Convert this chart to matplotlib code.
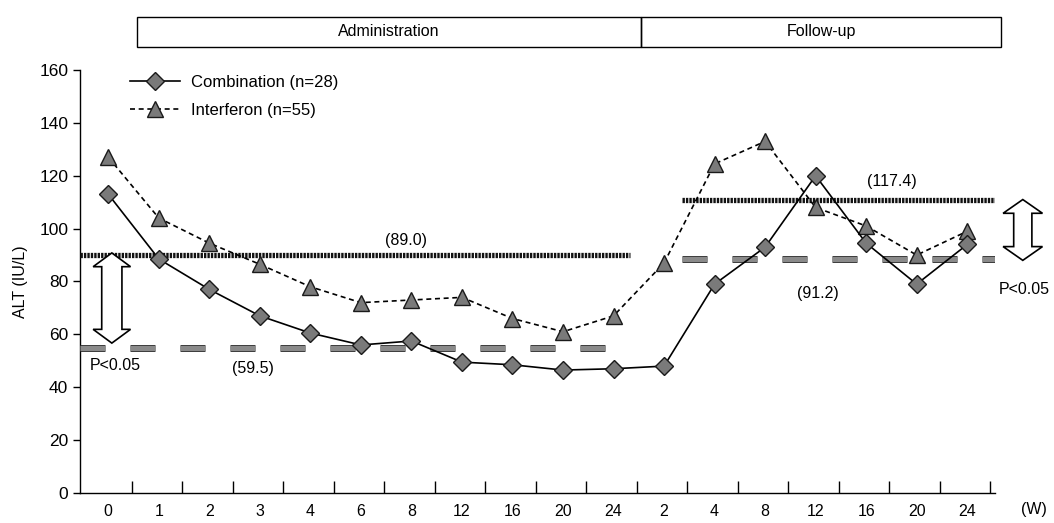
import matplotlib
matplotlib.use("Agg")
import matplotlib.pyplot as plt
import matplotlib.patheffects as pe
from matplotlib.patches import Polygon, Rectangle
from matplotlib.transforms import blended_transform_factory

plt.rcParams['font.family'] = ['Liberation Sans', 'DejaVu Sans']

weeks = ['0', '1', '2', '3', '4', '6', '8', '12', '16', '20', '24',
         '2', '4', '8', '12', '16', '20', '24']
combination = [113, 88.5, 77, 67, 60.5, 56, 57.5, 49.5, 48.5, 46.5, 47,
               48, 79, 93, 120, 94.5, 79, 94]
interferon = [127, 104, 94.5, 86.5, 78, 72, 73, 74, 66, 61, 67,
              87, 124.5, 133, 108, 101, 90, 99]

# mean reference levels as drawn: (administration, follow-up)
interferon_mean = [90, 111]
combination_mean = [55, 88.5]
mean_labels_ifn = ['(89.0)', '(117.4)']
mean_labels_comb = ['(59.5)', '(91.2)']
phases = ['Administration', 'Follow-up']

x = list(range(len(weeks)))

fig = plt.figure(figsize=(10.54, 5.23), dpi=100)
ax = fig.add_axes([80 / 1054, 1 - 493 / 523, 915 / 1054, 423 / 523])

ax.plot(x, combination, '-', color='black', lw=1.2, marker='D', ms=9.5,
        mfc='#7a7a7a', mec='#1a1a1a', mew=1, label='Combination (n=28)', zorder=5)
ax.plot(x, interferon, color='black', lw=1.2, ls=(0, (3, 2.2)), marker='^', ms=11,
        mfc='#7a7a7a', mec='#1a1a1a', mew=1, label='Interferon (n=55)', zorder=4)

# mean lines
spans = [(-0.56, 10.32), (11.36, 17.65)]
dash_spans = [(-0.56, 10.1), (11.36, 17.65)]
for (a, b), lvl in zip(spans, interferon_mean):
    ax.plot([a, b], [lvl, lvl], color='#111111', lw=3.8, ls=(0, (0.45, 0.2)),
            solid_capstyle='butt', zorder=3)
for (a, b), lvl in zip(dash_spans, combination_mean):
    ax.plot([a, b], [lvl, lvl], color='#8a8a8a', lw=3.6, ls=(0, (5, 5)),
            dash_capstyle='butt', zorder=3,
            path_effects=[pe.Stroke(linewidth=5, foreground='#3a3a3a'), pe.Normal()])

ax.text(5.9, 95.5, mean_labels_ifn[0], fontsize=11.5, ha='center', va='center')
ax.text(2.87, 47, mean_labels_comb[0], fontsize=11.5, ha='center', va='center')
ax.text(15.5, 117.8, mean_labels_ifn[1], fontsize=11.5, ha='center', va='center')
ax.text(14.05, 75.5, mean_labels_comb[1], fontsize=11.5, ha='center', va='center')


def double_arrow(xc, y0, y1, shaft, head, head_len):
    pts = [(xc, y1), (xc + head, y1 - head_len), (xc + shaft, y1 - head_len),
           (xc + shaft, y0 + head_len), (xc + head, y0 + head_len), (xc, y0),
           (xc - head, y0 + head_len), (xc - shaft, y0 + head_len),
           (xc - shaft, y1 - head_len), (xc - head, y1 - head_len)]
    ax.add_patch(Polygon(pts, closed=True, facecolor='white', edgecolor='black',
                         lw=1.2, clip_on=False, zorder=6))


double_arrow(0.07, 56.7, 90.8, 0.2, 0.37, 5.2)
double_arrow(18.1, 88, 111, 0.18, 0.39, 5.2)
ax.text(-0.37, 48.4, 'P<0.05', fontsize=11.5, ha='left', va='center')
ax.text(17.62, 76.8, 'P<0.05', fontsize=11.5, ha='left', va='center', clip_on=False)

# phase boxes above the plot
trans = blended_transform_factory(ax.transData, ax.transAxes)
box_edges = [0.57, 10.55, 17.66]
for i, name in enumerate(phases):
    ax.add_patch(Rectangle((box_edges[i], 1.054), box_edges[i + 1] - box_edges[i], 0.071,
                           transform=trans, fill=False, edgecolor='black', lw=1,
                           clip_on=False))
    ax.text((box_edges[i] + box_edges[i + 1]) / 2, 1.09, name, transform=trans,
            fontsize=11.5, ha='center', va='center')

ax.set_xlim(-0.56, 17.55)
ax.set_ylim(0, 160)
ax.set_yticks(range(0, 161, 20))
ax.set_xticks(x)
ax.set_xticklabels(weeks)
ax.set_xticks([i + 0.46 for i in x], minor=True)
ax.tick_params(axis='x', which='major', length=0, pad=8, labelsize=11.5)
ax.tick_params(axis='x', which='minor', direction='in', length=9, width=1)
ax.tick_params(axis='y', direction='out', length=5, width=1, labelsize=12.5)
for s in ['top', 'right']:
    ax.spines[s].set_visible(False)
ax.spines['left'].set_linewidth(1)
ax.spines['bottom'].set_linewidth(1)
ax.text(18.33, -0.04, '(W)', transform=trans, fontsize=11.5, ha='center', va='center')
ax.set_ylabel('ALT (IU/L)', fontsize=11.5, labelpad=8)

ax.legend(loc='upper left', bbox_to_anchor=(0.045, 1.008), frameon=False,
          fontsize=12, handlelength=3, numpoints=1, labelspacing=0.8,
          handletextpad=0.7, borderpad=0)

fig.savefig('out.png', dpi=100)
